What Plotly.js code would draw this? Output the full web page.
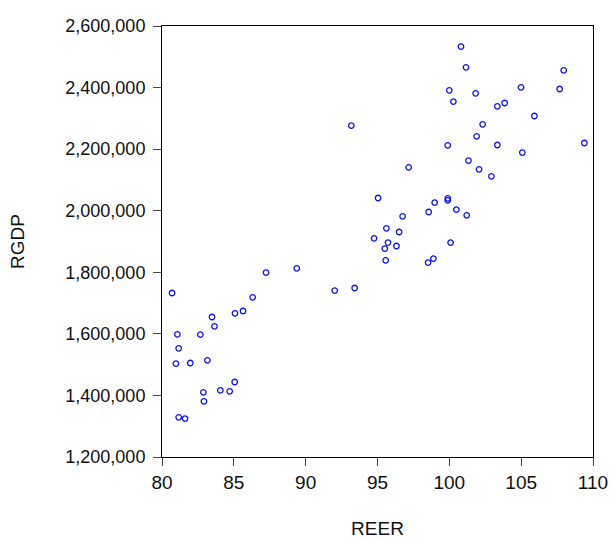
<!DOCTYPE html>
<html>
<head>
<meta charset="utf-8">
<script src="https://cdn.plot.ly/plotly-3.0.1.min.js"></script>
<style>
  html, body { margin: 0; padding: 0; background: #fff; }
  #chart { width: 610px; height: 539px; }
</style>
</head>
<body>
<div id="chart"></div>
<script>
const reer = [
  93.18, 95.04, 94.76, 100.81, 101.16, 107.96, 100.00, 101.83, 104.99, 107.68,
  100.28, 103.34, 103.85, 105.92, 102.32, 101.90, 99.89, 103.34, 109.40, 105.08,
  101.33, 102.07, 102.93, 97.17, 99.89, 99.89, 98.98, 98.56, 100.49, 101.21,
  96.75, 95.62, 96.50, 95.73, 100.09, 95.51, 96.32, 95.57, 98.52, 98.89,
  80.70, 87.24, 89.38, 92.02, 93.41, 86.31, 85.08, 85.64, 83.48, 83.65,
  81.07, 82.67, 81.16, 80.97, 81.97, 83.16, 85.06, 84.06, 84.71, 82.88,
  82.92, 81.16, 81.60
];
const rgdp = [
  2276500, 2041300, 1910400, 2533100, 2465800, 2456100, 2391100, 2381400, 2400900, 2395300,
  2354400, 2339200, 2349900, 2307700, 2280700, 2241700, 2212500, 2213500, 2219900, 2188800,
  2162800, 2134500, 2111800, 2141000, 2040300, 2033800, 2026300, 1995800, 2003600, 1985100,
  1981900, 1942900, 1930900, 1896400, 1896400, 1876900, 1885400, 1838900, 1831400, 1844400,
  1732700, 1799000, 1812900, 1740500, 1748900, 1718700, 1666800, 1674300, 1654800, 1624600,
  1598600, 1597600, 1553100, 1503400, 1505400, 1514100, 1443600, 1416700, 1413400, 1410100,
  1380900, 1328900, 1324700
];
const xTicks = [80, 85, 90, 95, 100, 105, 110];
const yTicks = [1200000, 1400000, 1600000, 1800000, 2000000, 2200000, 2400000, 2600000];
const xTitle = 'REER';
const yTitle = 'RGDP';

const trace = {
  x: reer,
  y: rgdp,
  type: 'scatter',
  mode: 'markers',
  marker: {
    symbol: 'circle-open',
    size: 5.5,
    color: '#1010ff',
    line: { width: 1.3, color: '#1010ff' }
  },
  hoverinfo: 'x+y'
};

const layout = {
  width: 610,
  height: 539,
  margin: { l: 162, r: 17, t: 26, b: 82 },
  paper_bgcolor: '#ffffff',
  plot_bgcolor: '#ffffff',
  showlegend: false,
  font: { family: 'Liberation Sans, Arial, sans-serif', color: '#111' },
  xaxis: {
    range: [80, 110],
    tickvals: xTicks,
    ticktext: xTicks.map(String),
    ticks: 'outside',
    ticklen: 8,
    tickwidth: 1,
    tickcolor: '#444',
    showgrid: false,
    zeroline: false,
    showline: true,
    linecolor: '#000',
    linewidth: 1,
    mirror: true,
    tickfont: { size: 19 },
    title: { text: xTitle, font: { size: 19 }, standoff: 33 }
  },
  yaxis: {
    range: [1200000, 2600000],
    tickvals: yTicks,
    tickformat: ',d',
    ticks: 'outside',
    ticklen: 8,
    tickwidth: 1,
    tickcolor: '#444',
    ticklabelstandoff: 4,
    showgrid: false,
    zeroline: false,
    showline: true,
    linecolor: '#000',
    linewidth: 1,
    mirror: true,
    tickfont: { size: 18 },
    title: { text: yTitle, font: { size: 19 }, standoff: 35 }
  }
};

Plotly.newPlot('chart', [trace], layout, { displayModeBar: false, staticPlot: true });
</script>
</body>
</html>
